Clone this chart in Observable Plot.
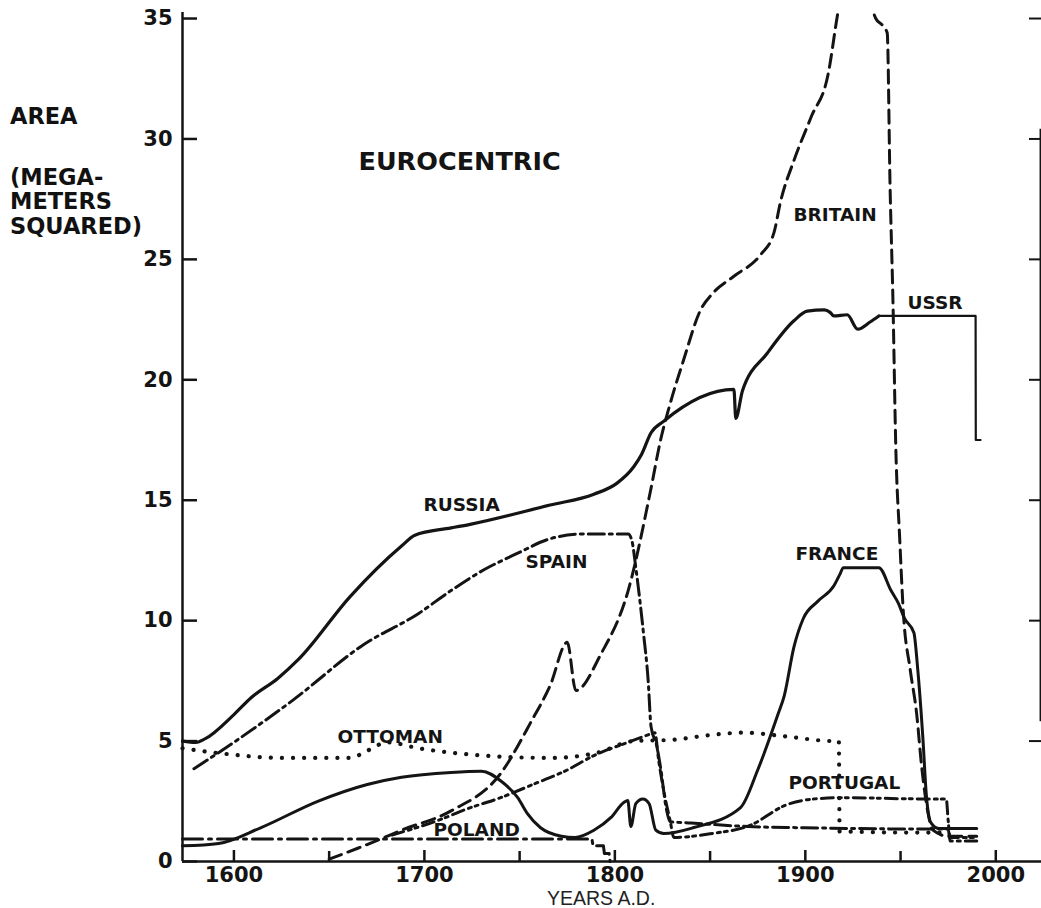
<!DOCTYPE html>
<html><head><meta charset="utf-8">
<script src="https://cdn.jsdelivr.net/npm/d3@7"></script>
<script src="https://cdn.jsdelivr.net/npm/@observablehq/plot@0.6"></script>
<style>
body{margin:0;background:#fff;}
#wrap{position:relative;width:1041px;height:908px;overflow:hidden;background:#fff;}
#wrap svg{position:absolute;left:0;top:0;}
.ylab{position:absolute;left:10px;font-family:"DejaVu Sans";font-weight:bold;font-size:22.5px;line-height:22px;color:#111;white-space:nowrap;}
.xlab{position:absolute;left:547px;top:891px;font-family:"Liberation Sans";font-size:19.5px;line-height:15px;color:#222;white-space:nowrap;}
</style></head><body>
<div id="wrap">
  <div class="ylab" style="top:105px">AREA</div>
  <div class="ylab" style="top:166px">(MEGA-</div>
  <div class="ylab" style="top:190px">METERS</div>
  <div class="ylab" style="top:215px">SQUARED)</div>
  <div class="xlab">YEARS A.D.</div>
</div>
<script>
// ---- data: [year, area in Mm²] ----
const russia = [[1573,5.0],[1580,4.95],[1585,5.1],[1600,6.1],[1609,6.8],[1623,7.6],[1634,8.4],[1661,11.0],[1688,13.1],[1695,13.55],[1714,13.85],[1724,14.0],[1766,14.8],[1789,15.25],[1801,15.7],[1810,16.4],[1814,16.9],[1819,17.8],[1826,18.3],[1862.5,19.6],[1863.5,18.4],[1867,19.55],[1880,21.1],[1894,22.45],[1901,22.85],[1910,22.9],[1913,22.8],[1915,22.65],[1922,22.7],[1927.5,22.1],[1934,22.4],[1938.6,22.65]];
const ussr = [[1938.6,22.65],[1989.4,22.65],[1989.5,17.5],[1992,17.5]];
const britain = [[1650,0.1],[1665,0.55],[1679,1.0],[1688,1.3],[1714,2.1],[1740,3.65],[1756,5.8],[1766,7.3],[1775,9.1],[1779.5,7.1],[1792.6,8.6],[1807,11.25],[1819,15.5],[1824,17.5],[1829,19.0],[1836,20.8],[1845,22.9],[1851.5,23.6],[1862.5,24.3],[1876.6,25.2],[1883.5,26.1],[1887,27.4],[1894,29.1],[1903,30.9],[1912,32.7],[1917,35.2],[1920,36.5],[1930,36.5],[1935.5,35.3],[1937,35.0],[1940.7,34.7],[1943,34.4],[1944.5,28],[1946,23.3],[1947.5,17.2],[1949.5,13.5],[1951.5,10.3],[1955,8.0],[1958.5,6.1],[1961,4.0],[1964,2.2],[1967,1.3],[1975,1.05],[1990,1.05]];
const france = [[1573,0.65],[1592,0.75],[1614,1.4],[1644,2.5],[1670,3.2],[1688,3.5],[1714,3.7],[1730,3.75],[1740,3.35],[1749,2.65],[1754,2.0],[1761,1.4],[1772,1.05],[1779,1.0],[1789,1.3],[1798,1.83],[1804.7,2.45],[1806.8,2.53],[1808.4,1.45],[1811,2.4],[1814.7,2.6],[1818,2.4],[1821.5,1.3],[1825.7,1.16],[1841.5,1.41],[1866,2.24],[1875,3.8],[1885.6,6.1],[1889,6.9],[1894,8.9],[1899,10.1],[1906.5,10.8],[1915,11.45],[1918,11.9],[1920,12.2],[1938.6,12.2],[1945,11.25],[1949,10.7],[1952,10.1],[1957,9.5],[1959,8.0],[1961.7,5.15],[1963.5,2.8],[1966,1.6],[1970,1.37],[1990,1.37]];
const spain = [[1579,3.85],[1600,4.95],[1631,6.7],[1668,9.0],[1697,10.3],[1714,11.25],[1731,12.1],[1749,12.8],[1766,13.4],[1784,13.6],[1807,13.6],[1809,13.3],[1811,12.2],[1815,9.5],[1817.5,7.5],[1819,5.6],[1822,4.8],[1824,3.9],[1827,2.2],[1829,1.65],[1840,1.6],[1870,1.45],[1900,1.4],[1960,1.35],[1975,1.35],[1976,0.85],[1990,0.85]];
const portugal = [[1683,1.1],[1707,1.7],[1723,2.2],[1740,2.65],[1757,3.2],[1775,3.8],[1789,4.4],[1807,4.95],[1819,5.3],[1821,5.35],[1823,4.2],[1826,2.8],[1829,1.7],[1831,1.0],[1850,1.15],[1871,1.5],[1890,2.35],[1905,2.6],[1920,2.65],[1960,2.6],[1974,2.6],[1975,1.7],[1976,1.0],[1990,1.0]];
const ottoman = [[1573,4.7],[1592,4.5],[1626,4.3],[1661,4.3],[1670,4.6],[1680.6,4.95],[1697,4.7],[1731,4.4],[1766,4.3],[1790,4.5],[1810,5.0],[1830,5.05],[1850,5.25],[1868,5.35],[1889,5.2],[1915,5.0],[1917.6,5.0],[1918,1.25],[1960,1.2],[1975,1.2]];
const poland = [[1573,0.93],[1788,0.93],[1788.5,0.65],[1794,0.65],[1794.5,0.33],[1797,0.33],[1797.5,0]];

const seriesLabels = [
  {label:"RUSSIA", year:1699.5, area:14.57},
  {label:"SPAIN", year:1753.1, area:12.17},
  {label:"BRITAIN", year:1893.8, area:26.61},
  {label:"USSR", year:1953.6, area:22.96},
  {label:"FRANCE", year:1894.8, area:12.50},
  {label:"OTTOMAN", year:1654.4, area:4.94},
  {label:"POLAND", year:1704.8, area:1.04},
  {label:"PORTUGAL", year:1891.2, area:3.03}
];
const chartTitle = [{label:"EUROCENTRIC", year:1665.4, area:28.69}];

const xDomain = [1573, 2024];
const yDomain = [0, 35.25];
const yTicks = [0,5,10,15,20,25,30,35];
const xMajorTicks = [1600,1700,1800,1900,2000];
const xMinorTicks = [1650,1750,1850,1950];
const rightAxisSpan = [5.8, 30.4];

// ---- build ----
const rows = (name, pts) => pts.map(([year, area]) => ({name, year, area}));
const ink = "#141414";
const base = {x:"year", y:"area", stroke:ink, fill:"none"};

const chart = Plot.plot({
  width: 1041, height: 908,
  marginLeft: 182, marginRight: 0, marginTop: 12, marginBottom: 47,
  x: {domain: xDomain, label: null},
  y: {domain: yDomain, label: null},
  style: {fontFamily: "DejaVu Sans", fontWeight: "bold", fontSize: "21px", color: ink, background: "transparent"},
  marks: [
    Plot.ruleX([xDomain[0]], {stroke: ink, strokeWidth: 2.5}),
    Plot.ruleY([0], {stroke: ink, strokeWidth: 2.5}),
    Plot.ruleX([xDomain[1] - 0.5], {y1: rightAxisSpan[0], y2: rightAxisSpan[1], stroke: ink, strokeWidth: 2}),
    Plot.axisY({anchor: "left", label: null, ticks: yTicks, tickSize: -15, tickPadding: 25, tickFormat: "d", strokeWidth: 2.5}),
    Plot.axisY({anchor: "right", label: null, ticks: yTicks.filter(d => d > 0), tickSize: -13, tickFormat: () => "", strokeWidth: 2}),
    Plot.axisX({anchor: "bottom", label: null, ticks: xMajorTicks, tickSize: -11, tickPadding: 17, tickFormat: "d", strokeWidth: 2.5}),
    Plot.axisX({anchor: "bottom", label: null, ticks: xMinorTicks, tickSize: -10, tickFormat: () => "", strokeWidth: 2.5}),

    Plot.line(rows("Ottoman", ottoman), {...base, strokeWidth: 4.2, strokeDasharray: "0.1 11", strokeLinecap: "round", curve: "monotone-x"}),
    Plot.line(rows("Poland", poland), {...base, strokeWidth: 3, strokeDasharray: "20 6 3 6", curve: "linear"}),
    Plot.line(rows("Portugal", portugal), {...base, strokeWidth: 3, strokeDasharray: "12 5 3 4 3 5", curve: "monotone-x"}),
    Plot.line(rows("Spain", spain), {...base, strokeWidth: 3, strokeDasharray: "16 5 3 5", curve: "monotone-x"}),
    Plot.line(rows("Britain", britain), {...base, strokeWidth: 3, strokeDasharray: "13 7", curve: "monotone-x", clip: true}),
    Plot.line(rows("France", france), {...base, strokeWidth: 3, curve: "monotone-x"}),
    Plot.line(rows("Russia", russia), {...base, strokeWidth: 3.2, curve: "monotone-x"}),
    Plot.line(rows("USSR", ussr), {...base, strokeWidth: 2.2, curve: "linear"}),

    Plot.text(seriesLabels, {x: "year", y: "area", text: "label", textAnchor: "start", lineAnchor: "bottom", fontSize: 18.5, fontWeight: "bold", fontFamily: "DejaVu Sans", fill: ink}),
    Plot.text(chartTitle, {x: "year", y: "area", text: "label", textAnchor: "start", lineAnchor: "bottom", fontSize: 25.5, fontWeight: "bold", fontFamily: "DejaVu Sans", fill: ink})
  ]
});
document.getElementById("wrap").prepend(chart);
</script></body></html>
